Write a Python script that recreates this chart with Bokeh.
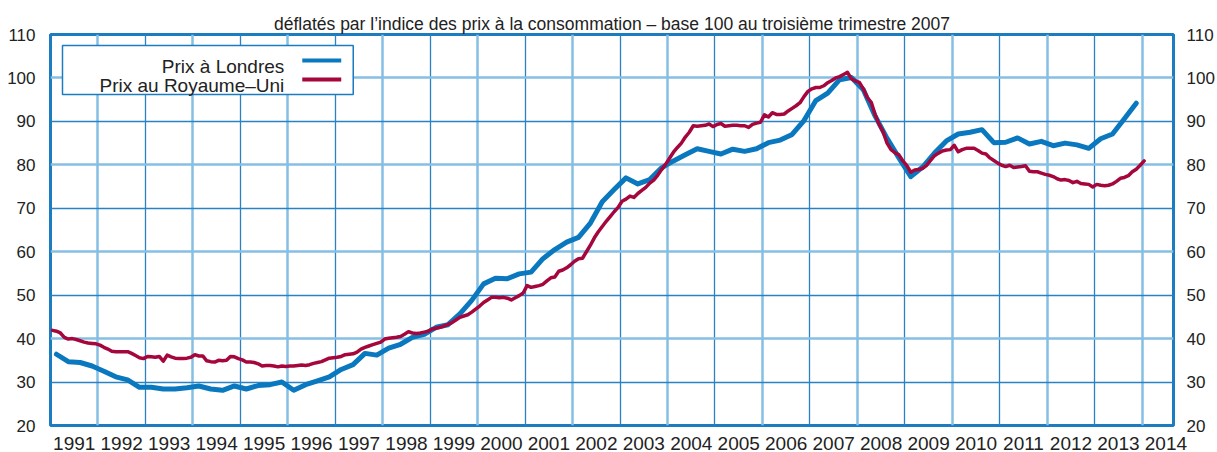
import numpy as np
from bokeh.plotting import figure
from bokeh.models import (FixedTicker, CustomJSTickFormatter, LinearAxis, Grid,
                          BoxAnnotation, Label, Range1d)
from bokeh.embed import file_html
from bokeh.resources import INLINE

# ---------------- data ----------------
years = list(range(1991, 2015))
title_text = "déflatés par l’indice des prix à la consommation – base 100 au troisième trimestre 2007"
y_ticks = list(range(20, 111, 10))
series_names = ["Prix à Londres", "Prix au Royaume–Uni"]

# London prices, quarterly 1991Q1 - 2013Q4
london_q = [
    36.4, 34.7, 34.5, 33.7,
    32.5, 31.2, 30.5, 28.8,
    28.8, 28.4, 28.4, 28.7,
    29.1, 28.4, 28.1, 29.1,
    28.4, 29.2, 29.4, 30.0,
    28.1, 29.4, 30.3, 31.2,
    32.9, 34.0, 36.6, 36.2,
    37.8, 38.7, 40.3, 41.0,
    42.6, 43.2, 45.7, 48.8,
    52.6, 53.9, 53.8, 54.9,
    55.3, 58.4, 60.5, 62.2,
    63.3, 66.6, 71.5, 74.3,
    77.0, 75.6, 76.6, 79.3,
    80.9, 82.3, 83.7, 83.1,
    82.5, 83.6, 83.1, 83.7,
    85.1, 85.7, 87.0, 90.2,
    94.8, 96.5, 99.6, 100.1,
    97.3, 91.2, 86.1, 81.6,
    77.3, 79.5, 82.7, 85.5,
    87.1, 87.5, 88.1, 85.1,
    85.2, 86.2, 84.8, 85.4,
    84.4, 85.0, 84.6, 83.8,
    86.0, 87.1, 90.6, 94.2,
]

# UK prices, monthly Jan 1991 - Jan 2014
uk_m = [
    41.9, 41.7, 41.3, 40.3, 39.9, 40.0, 39.8, 39.5, 39.2, 39.0, 38.9, 38.8,
    38.5, 38.0, 37.6, 37.1, 37.0, 37.0, 37.0, 37.0, 36.6, 36.1, 35.6, 35.4,
    35.9, 35.8, 35.7, 35.9, 34.8, 36.2, 35.8, 35.5, 35.4, 35.4, 35.5, 35.7,
    36.3, 36.0, 36.0, 34.9, 34.7, 34.6, 35.0, 34.9, 35.0, 35.9, 35.8, 35.4,
    35.1, 34.6, 34.6, 34.5, 34.2, 33.7, 33.8, 33.8, 33.7, 33.5, 33.7, 33.6,
    33.7, 33.7, 33.8, 33.9, 33.8, 34.0, 34.3, 34.5, 34.7, 35.1, 35.5, 35.6,
    35.7, 35.9, 36.3, 36.4, 36.5, 36.9, 37.6, 38.0, 38.3, 38.6, 38.9, 39.2,
    39.9, 40.1, 40.2, 40.3, 40.5, 41.0, 41.6, 41.3, 41.2, 41.3, 41.5, 41.7,
    42.2, 42.4, 42.6, 42.9, 43.3, 43.7, 44.3, 44.9, 45.2, 45.5, 46.1, 46.8,
    47.5, 48.3, 48.9, 49.5, 49.5, 49.4, 49.5, 49.3, 48.9, 49.4, 49.9, 50.5,
    52.2, 51.8, 52.0, 52.2, 52.5, 53.3, 54.0, 54.2, 55.5, 55.8, 56.3, 57.0,
    57.8, 58.4, 58.5, 60.0, 61.5, 63.2, 64.6, 65.8, 67.0, 68.1, 69.2, 70.2,
    71.6, 72.1, 72.8, 72.5, 73.4, 74.1, 74.8, 75.8, 76.5, 77.6, 78.9, 80.1,
    81.5, 82.9, 84.0, 85.0, 86.4, 87.5, 89.0, 88.9, 89.0, 89.1, 89.4, 88.8,
    89.3, 89.5, 88.9, 89.0, 89.1, 89.1, 89.0, 89.0, 88.6, 89.3, 89.6, 89.8,
    91.5, 91.0, 92.0, 91.6, 91.6, 91.7, 92.4, 93.0, 93.6, 94.3, 95.7, 96.9,
    97.5, 97.8, 97.8, 98.2, 98.9, 99.4, 100.0, 100.3, 100.8, 101.3, 99.8, 99.3,
    99.0, 97.5, 95.5, 94.4, 91.5, 89.3, 87.6, 85.0, 83.5, 82.8, 82.3, 80.9,
    79.8, 78.3, 78.8, 78.9, 79.2, 79.9, 81.0, 82.1, 82.7, 83.2, 83.4, 83.5,
    84.5, 83.0, 83.5, 83.8, 83.8, 83.8, 83.3, 82.7, 82.5, 81.6, 81.0, 80.4,
    79.9, 79.6, 79.9, 79.4, 79.5, 79.6, 79.8, 78.5, 78.4, 78.4, 78.1, 77.8,
    77.6, 77.3, 76.8, 76.5, 76.6, 76.4, 75.9, 76.2, 75.7, 75.6, 75.5, 74.9,
    75.5, 75.3, 75.2, 75.3, 75.6, 76.2, 76.9, 77.1, 77.5, 78.4, 79.0, 79.9,
    80.9,
]

# decimal-year positions (mid-period)
x_london = years[0] + (np.arange(len(london_q)) + 0.5) / 4
x_uk = years[0] + (np.arange(len(uk_m)) + 0.5) / 12

# ---------------- style ----------------
FONT = "Liberation Sans"
TXT = "#222222"
BLUE = "#0a78be"
RED = "#a5063c"
FRAME = "#1b7cc2"
GRID_LIGHT = "#86bfe4"
GRID_DARK = "#2a82c4"

X0, X1 = 1991, 2014.66
Y0, Y1 = 20, 110
W, H = 1217, 452
FL, FT, FR, FB = 50, 34, 1174, 425   # frame edges on the canvas

p = figure(width=W, height=H, x_range=Range1d(X0, X1), y_range=Range1d(Y0, Y1),
           output_backend="svg", toolbar_location=None,
           min_border_left=FL, min_border_right=W - FR, min_border_top=FT,
           min_border_bottom=H - FB,
           background_fill_color="white", border_fill_color="white")

p.title.text = title_text
p.title.align = "center"
p.title.text_font = FONT
p.title.text_font_size = "17.5px"
p.title.text_font_style = "normal"
p.title.text_color = TXT
p.title.standoff = 2

p.outline_line_color = FRAME
p.outline_line_width = 3
p.outline_line_alpha = 1

# remove default grids
p.xgrid.visible = False
p.ygrid.visible = False

# custom alternating grids
even_years = [y for y in years[1:] if y % 2 == 0]
odd_years = [y for y in years[1:] if y % 2 == 1]
even_vals = [v for v in y_ticks if (v // 10) % 2 == 0]
odd_vals = [v for v in y_ticks if (v // 10) % 2 == 1]
for dim, ticks, col, w in [(0, even_years, GRID_LIGHT, 2.5), (0, odd_years, GRID_DARK, 1.3),
                           (1, even_vals, GRID_LIGHT, 2.5), (1, odd_vals, GRID_DARK, 1.3)]:
    g = Grid(dimension=dim, ticker=FixedTicker(ticks=ticks),
             grid_line_color=col, grid_line_width=w)
    p.add_layout(g, "center")

# x axis: labels centred in each year
xa = p.xaxis[0]
xa.ticker = FixedTicker(ticks=[y + 0.5 for y in years])
xa.formatter = CustomJSTickFormatter(code="return Math.floor(tick).toString();")
xa.major_label_text_font = FONT
xa.major_label_text_font_size = "19px"
xa.major_label_text_color = TXT
xa.major_label_standoff = 5
xa.axis_line_color = None
xa.major_tick_line_color = None
xa.minor_tick_line_color = None

# y axes left/right
ya = p.yaxis[0]
ya.ticker = FixedTicker(ticks=y_ticks)
ra = LinearAxis(ticker=FixedTicker(ticks=y_ticks))
p.add_layout(ra, "right")
for ax, so in [(ya, 9), (ra, 7)]:
    ax.major_label_text_font = FONT
    ax.major_label_text_font_size = "17px"
    ax.major_label_text_color = TXT
    ax.major_label_standoff = so
    ax.axis_line_color = None
    ax.major_tick_line_color = None
    ax.minor_tick_line_color = None

# series
p.line(x_london, london_q, line_width=5, color=BLUE, line_join="round", line_cap="round")
p.line(x_uk, uk_m, line_width=3.5, color=RED, line_join="round", line_cap="round")

# ---------------- custom legend (text then swatch) ----------------
ppx = (FR - FL) / (X1 - X0)
ppy = (FB - FT) / (Y1 - Y0)
def sx(px):
    return X0 + (px - FL) / ppx
def sy(py):
    return Y1 - (py - FT) / ppy

p.add_layout(BoxAnnotation(left=sx(62), right=sx(353), top=sy(45), bottom=sy(94),
                           fill_color="white", fill_alpha=1, line_color=FRAME,
                           line_alpha=1, line_width=1.5))
for name, col, base, sw in [(series_names[0], BLUE, 66.0, 60.0), (series_names[1], RED, 85.0, 79.0)]:
    p.add_layout(Label(x=sx(284), y=sy(base), text=name, text_align="right",
                       text_baseline="alphabetic", text_font=FONT, text_font_size="19px",
                       text_color=TXT))
    p.add_layout(BoxAnnotation(left=sx(302), right=sx(341), top=sy(sw - 2), bottom=sy(sw + 2),
                               fill_color=col, fill_alpha=1, line_color=None))

open("out.html", "w").write(file_html(p, INLINE))
